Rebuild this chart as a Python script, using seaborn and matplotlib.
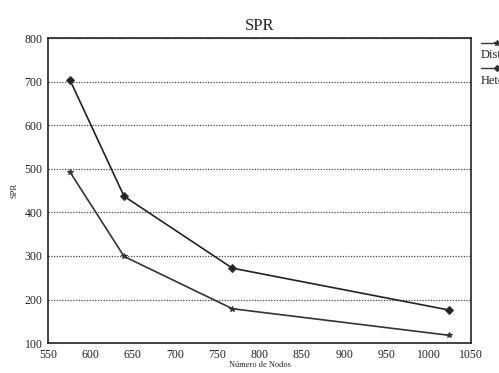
import pandas as pd
import matplotlib.pyplot as plt
import seaborn as sns
from matplotlib.lines import Line2D

sns.set_style("white")
plt.rcParams['font.family'] = ['Liberation Serif', 'DejaVu Serif']

# Data
nodos = [576, 640, 768, 1024]
spr_dis = [493, 299, 179, 118]
spr_het = [704, 437, 272, 176]
series = ['Distribuido', 'Heterogéneo']

df = pd.DataFrame({
    'Nodos': nodos * 2,
    'SPR': spr_dis + spr_het,
    'Serie': [series[0]] * len(nodos) + [series[1]] * len(nodos),
})

fig = plt.figure(figsize=(4.99, 3.73), dpi=100)
ax = fig.add_axes([0.096, 0.08, 0.848, 0.818])

sns.lineplot(data=df, x='Nodos', y='SPR', hue='Serie', style='Serie',
             palette=['#333333', '#222222'], markers={series[0]: '*', series[1]: 'D'},
             dashes=False, markersize=4, markeredgecolor='#333333',
             linewidth=1.2, ax=ax, legend=False)

ax.set_xlim(550, 1050)
ax.set_ylim(100, 800)
ax.set_xticks(range(550, 1051, 50))
ax.set_yticks(range(100, 801, 100))
ax.tick_params(axis='both', labelsize=8.5, length=3, direction='out', pad=1, colors='#222222')
for y in range(200, 801, 100):
    ax.axhline(y, color='#444444', linestyle=(0, (1, 1.2)), linewidth=0.9, zorder=0)
for s in ax.spines.values():
    s.set_color('#222222')
    s.set_linewidth(1.2)

ax.set_title('SPR', fontsize=12, pad=6)
ax.set_xlabel('Número de Nodos', fontsize=6, labelpad=0)
ax.set_ylabel('SPR', fontsize=6, labelpad=4)

# legend outside right: handle line above each label, clipped by the figure edge
markers = ['*', 'D']
for i, (lab, mk) in enumerate(zip(series, markers)):
    y0 = 0.885 - i * 0.068
    fig.add_artist(Line2D([0.964, 0.995], [y0, y0], transform=fig.transFigure,
                          color='#333333', lw=1, marker=mk, markevery=[1],
                          markersize=4 if mk == '*' else 3, markeredgecolor='#333333'))
    fig.text(0.964, y0 - 0.033, lab, fontsize=9, va='center', ha='left', color='#222222')

fig.savefig('out.png', dpi=100)
